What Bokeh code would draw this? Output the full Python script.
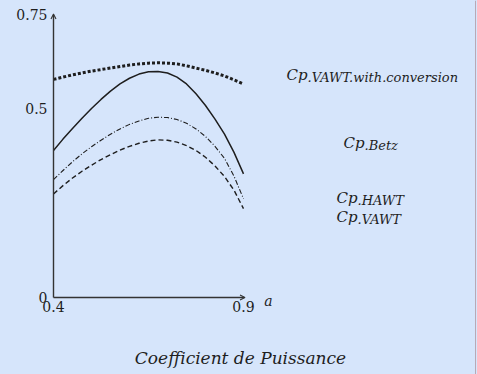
from bokeh.plotting import figure
from bokeh.models import Range1d, FixedTicker, Label, Arrow, OpenHead, Span
from bokeh.embed import file_html
from bokeh.resources import INLINE

# ---- data ----
a_values = [0.400, 0.425, 0.450, 0.475, 0.500, 0.525, 0.550, 0.575, 0.600, 0.625, 0.650,
            0.675, 0.700, 0.725, 0.750, 0.775, 0.800, 0.825, 0.850, 0.875, 0.900]
cp_vawt_conv = [0.577, 0.583, 0.589, 0.594, 0.599, 0.603, 0.607, 0.611, 0.615, 0.618, 0.620,
                0.621, 0.620, 0.618, 0.613, 0.607, 0.601, 0.594, 0.586, 0.576, 0.565]
cp_betz = [0.389, 0.419, 0.447, 0.474, 0.500, 0.524, 0.546, 0.565, 0.580, 0.591, 0.597,
           0.598, 0.594, 0.583, 0.565, 0.539, 0.508, 0.472, 0.432, 0.384, 0.327]
cp_hawt = [0.312, 0.336, 0.359, 0.380, 0.399, 0.416, 0.432, 0.446, 0.458, 0.467, 0.474,
           0.477, 0.476, 0.471, 0.461, 0.446, 0.426, 0.400, 0.368, 0.321, 0.261]
cp_vawt = [0.274, 0.296, 0.316, 0.334, 0.350, 0.365, 0.378, 0.390, 0.400, 0.408, 0.414,
           0.417, 0.416, 0.411, 0.402, 0.389, 0.371, 0.348, 0.320, 0.284, 0.235]

x_ticks = [0.4, 0.9]
x_tick_labels = ["0.4", "0.9"]
y_ticks = [0, 0.5, 0.75]
y_tick_labels = ["0", "0.5", "0.75"]

series_main = ["Cp", "Cp", "Cp", "Cp"]
series_sub = [".VAWT.with.conversion", ".Betz", ".HAWT", ".VAWT"]
title_text = "Coefficient de Puissance"
x_label = "a"

BG = "#d6e5fb"
INK = "#1e1e1e"
AXC = "#333333"
SERIF = "DejaVu Serif"

W, H = 477, 374
AX_X, AX_Y = 53, 297      # pixel position of the origin inside the figure
XS = 380.0                # px per unit of a
YS = 378.0                # px per unit of Cp


def px_x(px):
    return 0.4 + (px - AX_X) / XS


def px_y(py):
    return (AX_Y - py) / YS


p = figure(width=W, height=H, output_backend="svg", toolbar_location=None,
           x_range=Range1d(px_x(0), px_x(W)),
           y_range=Range1d(px_y(H), px_y(0)),
           min_border=0)
p.background_fill_color = BG
p.border_fill_color = BG
p.outline_line_color = None
p.grid.visible = False

p.xaxis.fixed_location = 0
p.yaxis.fixed_location = 0.4
for ax, ticks, labels in ((p.xaxis[0], x_ticks, x_tick_labels),
                          (p.yaxis[0], y_ticks, y_tick_labels)):
    ax.ticker = FixedTicker(ticks=ticks)
    ax.major_label_overrides = {t: l for t, l in zip(ticks, labels)}
    ax.axis_line_color = None
    ax.major_tick_line_color = None
    ax.minor_tick_line_color = None
    ax.major_tick_out = 0
    ax.major_tick_in = 0
    ax.major_label_text_font = SERIF
    ax.major_label_text_font_size = "14px"
    ax.major_label_text_color = INK
p.xaxis.major_label_standoff = 3
p.yaxis.major_label_standoff = 6

# thin frame line on the right edge of the slide
p.add_layout(Span(location=px_x(475), dimension="height",
                  line_color="#b8a9b6", line_width=1))

# axes with arrow heads
p.add_layout(Arrow(x_start=x_ticks[0], y_start=0, x_end=x_ticks[-1] + 1.5 / XS, y_end=0,
                   line_color=AXC, line_width=1.4,
                   end=OpenHead(size=5, line_width=1.1, line_color=AXC)))
p.add_layout(Arrow(x_start=x_ticks[0], y_start=0, x_end=x_ticks[0], y_end=y_ticks[-1],
                   line_color=AXC, line_width=1.4,
                   end=OpenHead(size=5, line_width=1.1, line_color=AXC)))

# curves
p.line(a_values, cp_vawt_conv, line_color=INK, line_width=3, line_dash="3 2", line_cap="butt")
p.line(a_values, cp_betz, line_color=INK, line_width=1.5)
p.line(a_values, cp_hawt, line_color=INK, line_width=1.1, line_dash="5 2 1 2")
p.line(a_values, cp_vawt, line_color=INK, line_width=1.4, line_dash="5 3")

# series labels: (split pixel x, main baseline pixel y)
label_pos = [(307, 74), (364, 142), (357, 197), (357, 216)]
for main, sub, (sx, by) in zip(series_main, series_sub, label_pos):
    p.add_layout(Label(x=px_x(sx), y=px_y(by), text=main, text_align="right",
                       text_baseline="alphabetic", text_font=SERIF, text_font_style="italic",
                       text_font_size="15px", text_color=INK))
    p.add_layout(Label(x=px_x(sx), y=px_y(by + 3), text=sub, text_align="left",
                       text_baseline="alphabetic", text_font=SERIF, text_font_style="italic",
                       text_font_size="13px", text_color=INK))

p.add_layout(Label(x=px_x(268), y=px_y(300), text=x_label,
                   text_align="center", text_baseline="alphabetic", text_font=SERIF,
                   text_font_style="italic", text_font_size="14px", text_color=INK))
p.add_layout(Label(x=px_x(240), y=px_y(357), text=title_text,
                   text_align="center", text_baseline="alphabetic", text_font=SERIF,
                   text_font_style="italic", text_font_size="17px", text_color=INK))

html = file_html(p, INLINE)
style = "<style>html, body { background-color: %s !important; }</style>" % BG
if "</head>" in html:
    html = html.replace("</head>", style + "</head>", 1)
else:
    html = style + html
open("out.html", "w").write(html)
